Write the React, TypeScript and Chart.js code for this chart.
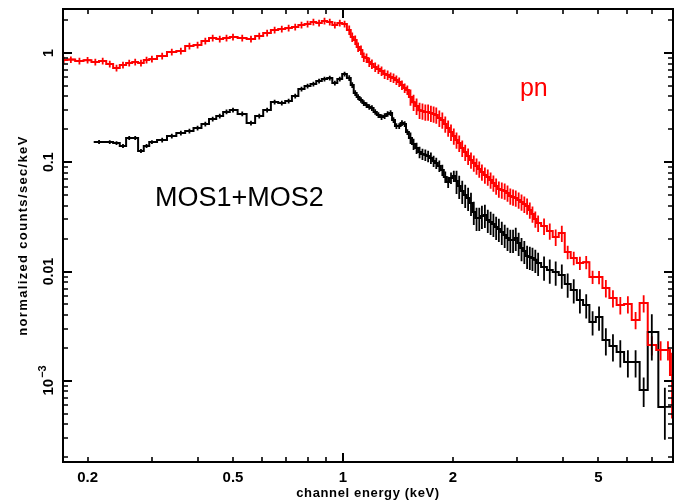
import React, { useEffect, useRef } from "react";
import { Chart, registerables } from "chart.js";

Chart.register(...registerables);

// ---- data ----
// pn (red): energies in keV, normalized counts/sec/keV, fractional error
const pnEnergyLow = [0.172, 0.18, 0.19, 0.2, 0.21, 0.22, 0.23, 0.24, 0.25, 0.26, 0.27, 0.28, 0.29, 0.3,
  0.32, 0.34, 0.36, 0.38, 0.4, 0.42, 0.44, 0.46, 0.48, 0.5,
  0.53, 0.56, 0.59, 0.62, 0.65, 0.68, 0.71, 0.74, 0.77, 0.8, 0.83, 0.86, 0.89, 0.92, 0.95, 0.98, 1.01];
const pnCountsLow = [0.863, 0.87, 0.845, 0.86, 0.827, 0.845, 0.793, 0.729, 0.777, 0.81, 0.827, 0.81, 0.863, 0.881,
  0.939, 1.021, 1.043, 1.159, 1.184, 1.288, 1.372, 1.343, 1.372, 1.401,
  1.37, 1.343, 1.431, 1.524, 1.623, 1.658, 1.693, 1.729, 1.804, 1.842, 1.921, 1.882, 1.962, 1.921, 1.804, 1.88, 1.84];
const pnErrLow = [0.07, 0.07, 0.07, 0.07, 0.07, 0.07, 0.07, 0.07, 0.07, 0.07,
  0.07, 0.07, 0.07, 0.07, 0.07, 0.07, 0.07, 0.07, 0.07, 0.07,
  0.07, 0.07, 0.07, 0.07, 0.07, 0.07, 0.07, 0.07, 0.07, 0.07,
  0.07, 0.07, 0.07, 0.07, 0.07, 0.07, 0.07, 0.07, 0.07, 0.07, 0.07];

const midEnergy = [1.04, 1.06, 1.08, 1.1, 1.12, 1.14, 1.16, 1.18, 1.2, 1.225,
  1.25, 1.275, 1.3, 1.325, 1.35, 1.375, 1.4, 1.425, 1.45, 1.475,
  1.5, 1.53, 1.56, 1.59, 1.62, 1.65, 1.68, 1.71, 1.74, 1.77,
  1.8, 1.835, 1.87, 1.905, 1.94, 1.975, 2.01, 2.045, 2.08, 2.12,
  2.16, 2.2, 2.24, 2.28, 2.32, 2.36, 2.4, 2.445, 2.49, 2.535,
  2.58, 2.625, 2.67, 2.72, 2.77, 2.82, 2.87, 2.92, 2.97, 3.025,
  3.08, 3.135, 3.19, 3.245, 3.3, 3.36, 3.42];
const pnCountsMid = [1.623, 1.4, 1.315, 1.135, 1.065, 0.919, 0.9, 0.827, 0.793, 0.745,
  0.714, 0.684, 0.642, 0.629, 0.603, 0.59, 0.566, 0.543, 0.51, 0.478,
  0.459, 0.396, 0.355, 0.327, 0.3, 0.295, 0.289, 0.289, 0.282, 0.277,
  0.271, 0.254, 0.244, 0.224, 0.206, 0.189, 0.174, 0.16, 0.15, 0.135,
  0.124, 0.114, 0.105, 0.0985, 0.0925, 0.0868, 0.0815, 0.0765, 0.0734, 0.0689,
  0.0647, 0.0607, 0.057, 0.0558, 0.0546, 0.0524, 0.0492, 0.0481, 0.0471, 0.0452,
  0.0433, 0.0415, 0.0398, 0.0366, 0.0337, 0.0303, 0.0278];
const pnErrMid = [0.1, 0.1, 0.1, 0.1, 0.1, 0.1, 0.1, 0.1, 0.1, 0.1,
  0.1, 0.1, 0.1, 0.1, 0.1, 0.1, 0.1, 0.1, 0.1, 0.1,
  0.1, 0.17, 0.17, 0.17, 0.17, 0.17, 0.17, 0.17, 0.17, 0.17,
  0.17, 0.17, 0.17, 0.17, 0.17, 0.17, 0.17, 0.17, 0.17, 0.17,
  0.17, 0.17, 0.17, 0.17, 0.17, 0.17, 0.17, 0.17, 0.17, 0.17,
  0.17, 0.17, 0.17, 0.17, 0.17, 0.17, 0.17, 0.17, 0.17, 0.17,
  0.17, 0.17, 0.17, 0.17, 0.17, 0.17, 0.17];

const pnEnergyHigh = [3.55, 3.68, 3.82, 3.97, 4.12, 4.28, 4.45, 4.63, 4.82, 5.02,
  5.24, 5.48, 5.74, 6.02, 6.32, 6.65, 7.0, 7.4, 7.75, 7.95];
const pnCountsHigh = [0.0261, 0.0235, 0.0207, 0.0225, 0.0151, 0.0133, 0.012, 0.0122, 0.00893, 0.0089,
  0.00708, 0.00573, 0.00495, 0.00505, 0.00361, 0.00516, 0.00213, 0.00192, 0.00192, 0.00113];
const pnErrHigh = [0.17, 0.17, 0.17, 0.17, 0.14, 0.14, 0.14, 0.14, 0.14, 0.14,
  0.18, 0.18, 0.18, 0.18, 0.18, 0.18, 0.2, 0.2, 0.2, 0.6];

// MOS1+MOS2 (black)
const mosEnergyLow = [0.215, 0.23, 0.24, 0.25, 0.26, 0.27, 0.28, 0.29, 0.3,
  0.32, 0.34, 0.36, 0.38, 0.4, 0.42, 0.44, 0.46, 0.48, 0.5,
  0.53, 0.56, 0.59, 0.62, 0.65, 0.68, 0.71, 0.74, 0.77, 0.8, 0.83, 0.86, 0.89, 0.92, 0.95, 0.98, 1.01];
const mosCountsLow = [0.1534, 0.153, 0.15, 0.141, 0.167, 0.167, 0.127, 0.141, 0.153,
  0.16, 0.174, 0.185, 0.193, 0.206, 0.224, 0.249, 0.265, 0.289, 0.301,
  0.277, 0.229, 0.265, 0.301, 0.356, 0.348, 0.364, 0.404, 0.468, 0.499, 0.521, 0.554, 0.578, 0.59, 0.531, 0.578, 0.642];
const mosErrLow = [0.04, 0.04, 0.04, 0.04, 0.04, 0.04, 0.04, 0.04, 0.04,
  0.05, 0.05, 0.05, 0.05, 0.05, 0.05, 0.05, 0.05, 0.05, 0.05,
  0.05, 0.05, 0.05, 0.05, 0.05, 0.05, 0.05, 0.05, 0.05, 0.05, 0.05, 0.05, 0.05, 0.05, 0.05, 0.05, 0.05];

const mosCountsMid = [0.59, 0.51, 0.431, 0.396, 0.372, 0.349, 0.334, 0.321, 0.314, 0.289,
  0.271, 0.26, 0.265, 0.277, 0.282, 0.244, 0.215, 0.215, 0.229, 0.224,
  0.189, 0.167, 0.147, 0.135, 0.124, 0.119, 0.117, 0.114, 0.1095, 0.1027,
  0.0985, 0.0925, 0.085, 0.0734, 0.066, 0.0719, 0.0749, 0.0675, 0.0607, 0.0546,
  0.0502, 0.0471, 0.0424, 0.0351, 0.0309, 0.0309, 0.0323, 0.0329, 0.0297, 0.0284,
  0.0273, 0.0256, 0.0245, 0.023, 0.0216, 0.0203, 0.0195, 0.0195, 0.0203, 0.0183,
  0.0164, 0.0154, 0.0139, 0.0136, 0.0133, 0.0128, 0.012];
const mosErrMid = [0.06, 0.06, 0.06, 0.06, 0.06, 0.06, 0.06, 0.06, 0.06, 0.06,
  0.06, 0.06, 0.06, 0.06, 0.06, 0.06, 0.06, 0.06, 0.06, 0.06,
  0.06, 0.12, 0.12, 0.12, 0.12, 0.12, 0.12, 0.12, 0.12, 0.12,
  0.12, 0.12, 0.12, 0.12, 0.12, 0.12, 0.12, 0.24, 0.24, 0.24,
  0.24, 0.24, 0.24, 0.24, 0.24, 0.24, 0.24, 0.24, 0.24, 0.24,
  0.24, 0.24, 0.24, 0.24, 0.24, 0.24, 0.24, 0.24, 0.24, 0.24,
  0.24, 0.24, 0.24, 0.24, 0.24, 0.24, 0.24];

const mosEnergyHigh = [3.55, 3.68, 3.82, 3.97, 4.12, 4.28, 4.45, 4.63, 4.82, 5.02,
  5.24, 5.48, 5.74, 6.02, 6.32, 6.65, 7.0, 7.6];
const mosCountsHigh = [0.011, 0.01034, 0.00991, 0.0093, 0.0077, 0.00679, 0.0055, 0.00495, 0.00346, 0.00384,
  0.00237, 0.00209, 0.00184, 0.00149, 0.00149, 0.000825, 0.0028, 0.000577];
const mosErrHigh = [0.25, 0.25, 0.25, 0.25, 0.25, 0.25, 0.25, 0.25, 0.25, 0.25,
  0.28, 0.28, 0.28, 0.28, 0.28, 0.3, 0.45, 0.5];

const pnEnergy = [...pnEnergyLow, ...midEnergy, ...pnEnergyHigh];
const pnCounts = [...pnCountsLow, ...pnCountsMid, ...pnCountsHigh];
const pnErr = [...pnErrLow, ...pnErrMid, ...pnErrHigh];
const mosEnergy = [...mosEnergyLow, ...midEnergy, ...mosEnergyHigh];
const mosCounts = [...mosCountsLow, ...mosCountsMid, ...mosCountsHigh];
const mosErr = [...mosErrLow, ...mosErrMid, ...mosErrHigh];

const xLabelTicks = [0.2, 0.5, 1, 2, 5];
const xTickLabels = ["0.2", "0.5", "1", "2", "5"];
const xMajorTicks = [1];
const xMinorTicks = [0.2, 0.3, 0.4, 0.5, 0.6, 0.7, 0.8, 0.9, 2, 3, 4, 5, 6, 7];
const yLabelTicks = [1, 0.1, 0.01, 0.001];
const yTickLabels = ["1", "0.1", "0.01", "10^-3"];
const yMajorTicks = [1, 0.1, 0.01, 0.001];
const yMinorTicks = [2e-4, 3e-4, 4e-4, 5e-4, 6e-4, 7e-4, 8e-4, 9e-4,
  2e-3, 3e-3, 4e-3, 5e-3, 6e-3, 7e-3, 8e-3, 9e-3,
  0.02, 0.03, 0.04, 0.05, 0.06, 0.07, 0.08, 0.09,
  0.2, 0.3, 0.4, 0.5, 0.6, 0.7, 0.8, 0.9, 2];

const xTitle = "channel energy (keV)";
const yTitle = "normalized counts/sec/keV";

const annotationTexts = ["pn", "MOS1+MOS2"];
const annotationEnergy = [3.05, 0.306];
const annotationCounts = [0.404, 0.0398];
const annotationColors = ["#ff0000", "#000000"];

const X_MIN = 0.1713;
const X_MAX = 8.0;
const Y_MIN = 1.81e-4;
const Y_MAX = 2.527;

const SANS = '"Liberation Sans", Arial, Helvetica, sans-serif';

const errorBarPlugin = {
  id: "errorBars",
  afterDatasetsDraw(chart: any) {
    const { ctx, chartArea, scales } = chart;
    const xs = scales.x;
    const ys = scales.y;
    ctx.save();
    ctx.beginPath();
    ctx.rect(chartArea.left, chartArea.top, chartArea.right - chartArea.left, chartArea.bottom - chartArea.top);
    ctx.clip();
    chart.data.datasets.forEach((ds: any) => {
      const pts = ds.data as { x: number; y: number }[];
      const err = ds.errFrac as number[];
      const px = pts.map((p) => xs.getPixelForValue(p.x));
      ctx.strokeStyle = ds.borderColor;
      ctx.lineWidth = 1.8;
      ctx.beginPath();
      for (let i = 0; i < pts.length; i++) {
        const cx = px[i];
        const l = i > 0 ? (px[i - 1] + cx) / 2 : cx - (px[i + 1] - cx) / 2;
        const r = i < pts.length - 1 ? (px[i + 1] + cx) / 2 : cx + (cx - px[i - 1]) / 2;
        const cy = ys.getPixelForValue(pts[i].y);
        ctx.moveTo(l, cy);
        ctx.lineTo(r, cy);
        const e = err[i];
        ctx.moveTo(cx, ys.getPixelForValue(pts[i].y * (1 + e)));
        ctx.lineTo(cx, ys.getPixelForValue(pts[i].y * (1 - e)));
      }
      ctx.stroke();
    });
    ctx.restore();
  },
};

const decorPlugin = {
  id: "decor",
  afterDraw(chart: any) {
    const { ctx, chartArea, scales } = chart;
    const { left, right, top, bottom } = chartArea;
    const xs = scales.x;
    const ys = scales.y;
    ctx.save();
    ctx.strokeStyle = "#000";
    ctx.fillStyle = "#000";

    ctx.lineWidth = 2;
    ctx.strokeRect(left, top, right - left, bottom - top);

    const xTick = (v: number, len: number) => {
      const p = Math.round(xs.getPixelForValue(v));
      ctx.beginPath();
      ctx.moveTo(p, bottom);
      ctx.lineTo(p, bottom - len);
      ctx.moveTo(p, top);
      ctx.lineTo(p, top + len);
      ctx.stroke();
    };
    const yTick = (v: number, len: number) => {
      const p = Math.round(ys.getPixelForValue(v));
      ctx.beginPath();
      ctx.moveTo(left, p);
      ctx.lineTo(left + len, p);
      ctx.moveTo(right, p);
      ctx.lineTo(right - len, p);
      ctx.stroke();
    };
    ctx.lineWidth = 2;
    xMajorTicks.forEach((v) => xTick(v, 9));
    yMajorTicks.forEach((v) => yTick(v, 9));
    ctx.lineWidth = 1.6;
    xMinorTicks.forEach((v) => xTick(v, 5));
    yMinorTicks.forEach((v) => yTick(v, 5));

    ctx.font = `bold 15px ${SANS}`;
    ctx.textAlign = "center";
    ctx.textBaseline = "alphabetic";
    xLabelTicks.forEach((v, i) => {
      ctx.fillText(xTickLabels[i], xs.getPixelForValue(v), bottom + 20);
    });

    yLabelTicks.forEach((v, i) => {
      const lab = yTickLabels[i];
      const py = ys.getPixelForValue(v);
      ctx.save();
      ctx.translate(left - 10, py);
      ctx.rotate(-Math.PI / 2);
      if (lab.includes("^")) {
        const [base, sup] = lab.split("^");
        const supTxt = sup.replace("-", "\u2212");
        ctx.font = `bold 15px ${SANS}`;
        const wb = ctx.measureText(base).width;
        ctx.font = `bold 11px ${SANS}`;
        const ws = ctx.measureText(supTxt).width;
        const start = -(wb + ws) / 2;
        ctx.textAlign = "left";
        ctx.font = `bold 15px ${SANS}`;
        ctx.fillText(base, start, 0);
        ctx.font = `bold 11px ${SANS}`;
        ctx.fillText(supTxt, start + wb + 1, -7);
      } else {
        ctx.font = `bold 14px ${SANS}`;
        ctx.textAlign = "center";
        ctx.fillText(lab, 0, 0);
      }
      ctx.restore();
    });

    const fitText = (txt: string, target: number) => {
      const w = ctx.measureText(txt).width;
      const ls = (target - w) / (txt.length - 1);
      (ctx as any).letterSpacing = `${ls.toFixed(2)}px`;
      return ctx.measureText(txt).width;
    };
    ctx.font = `bold 13px ${SANS}`;
    ctx.textAlign = "left";
    (ctx as any).letterSpacing = "0px";
    const wx = fitText(xTitle, 143);
    ctx.fillText(xTitle, (left + right) / 2 - wx / 2, bottom + 35);
    (ctx as any).letterSpacing = "0px";
    ctx.save();
    ctx.translate(left - 36, (top + bottom) / 2);
    ctx.rotate(-Math.PI / 2);
    ctx.font = `bold 13px ${SANS}`;
    const wy = fitText(yTitle, 199);
    ctx.fillText(yTitle, -wy / 2, 0);
    ctx.restore();
    (ctx as any).letterSpacing = "0px";

    annotationTexts.forEach((t, i) => {
      ctx.fillStyle = annotationColors[i];
      ctx.font = `${i === 0 ? 25 : 27}px ${SANS}`;
      ctx.textAlign = "left";
      ctx.fillText(t, xs.getPixelForValue(annotationEnergy[i]), ys.getPixelForValue(annotationCounts[i]));
    });
    ctx.restore();
  },
};

export default function App() {
  const ref = useRef<HTMLCanvasElement>(null);
  useEffect(() => {
    const canvas = ref.current;
    if (!canvas) return;
    const chart = new Chart(canvas, {
      type: "line",
      data: {
        datasets: [
          {
            label: "pn",
            data: pnEnergy.map((e, i) => ({ x: e, y: pnCounts[i] })),
            borderColor: "#ff0000",
            borderWidth: 2,
            stepped: "middle",
            pointRadius: 0,
            fill: false,
            errFrac: pnErr,
          } as any,
          {
            label: "MOS1+MOS2",
            data: mosEnergy.map((e, i) => ({ x: e, y: mosCounts[i] })),
            borderColor: "#000000",
            borderWidth: 2,
            stepped: "middle",
            pointRadius: 0,
            fill: false,
            errFrac: mosErr,
          } as any,
        ],
      },
      options: {
        responsive: false,
        animation: false,
        layout: { padding: { left: 63, top: 9, right: 13, bottom: 40 } },
        scales: {
          x: { type: "logarithmic", min: X_MIN, max: X_MAX, bounds: "data", display: false },
          y: { type: "logarithmic", min: Y_MIN, max: Y_MAX, bounds: "data", display: false },
        },
        plugins: { legend: { display: false }, tooltip: { enabled: false } },
      },
      plugins: [errorBarPlugin, decorPlugin],
    });
    return () => chart.destroy();
  }, []);
  return (
    <div style={{ position: "fixed", left: 0, top: 0, width: 686, height: 502, background: "#fff" }}>
      <canvas ref={ref} width={686} height={502} style={{ display: "block" }} />
    </div>
  );
}
